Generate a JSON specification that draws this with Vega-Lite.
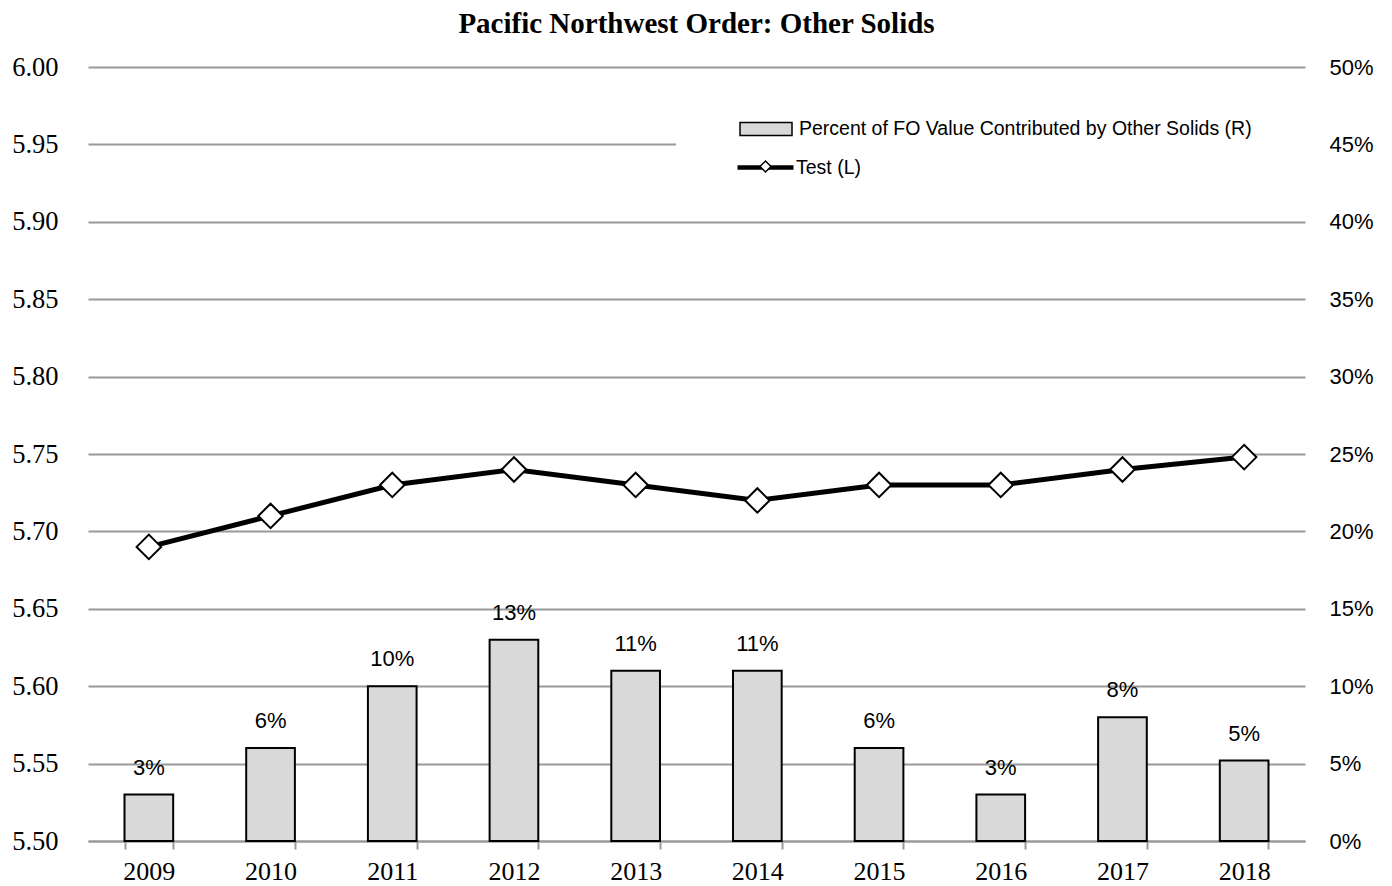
{
  "$schema": "https://vega.github.io/schema/vega-lite/v6.json",
  "width": 1217,
  "height": 774,
  "autosize": {"type": "none"},
  "padding": {"left": 88, "top": 67, "right": 87, "bottom": 45},
  "background": "white",
  "title": {"text": "Pacific Northwest Order: Other Solids", "font": "Liberation Serif", "fontSize": 29, "fontWeight": "bold", "color": "black", "anchor": "middle", "offset": 15},
  "config": {"view": {"stroke": null}},
  "data": {"values": [
    {"year": "2009", "pct": 0.03, "test": 5.69},
    {"year": "2010", "pct": 0.06, "test": 5.71},
    {"year": "2011", "pct": 0.10, "test": 5.73},
    {"year": "2012", "pct": 0.13, "test": 5.74},
    {"year": "2013", "pct": 0.11, "test": 5.73},
    {"year": "2014", "pct": 0.11, "test": 5.72},
    {"year": "2015", "pct": 0.06, "test": 5.73},
    {"year": "2016", "pct": 0.03, "test": 5.73},
    {"year": "2017", "pct": 0.08, "test": 5.74},
    {"year": "2018", "pct": 0.052, "test": 5.748}
  ]},
  "encoding": {
    "x": {"field": "year", "type": "ordinal", "title": null,
      "scale": {"paddingInner": 0.6, "paddingOuter": 0.3},
      "axis": {"labelAngle": 0, "labelFont": "Liberation Serif", "labelFontSize": 26, "labelColor": "black", "labelPadding": 9,
        "domainColor": "#999999", "domainWidth": 2, "tickColor": "#999999", "tickWidth": 2, "tickSize": 8, "tickBand": "extent"}}
  },
  "layer": [
    {
      "encoding": {
        "y": {"field": "pct", "type": "quantitative", "title": null,
          "scale": {"domain": [0, 0.5], "nice": false, "zero": true},
          "axis": {"orient": "right", "format": ".0%", "values": [0, 0.05, 0.1, 0.15, 0.2, 0.25, 0.3, 0.35, 0.4, 0.45, 0.5],
            "grid": false, "domain": false, "ticks": false, "labelPadding": 24, "labelFont": "Liberation Sans", "labelFontSize": 22, "labelColor": "black"}}
      },
      "layer": [
        {
          "mark": {"type": "bar", "stroke": "black", "strokeWidth": 2},
          "encoding": {
            "fill": {"datum": "Percent of FO Value Contributed by Other Solids (R)",
              "scale": {"range": ["#d9d9d9"]},
              "legend": {"orient": "none", "legendX": 588, "legendY": 3, "title": " ", "titleOrient": "right", "titlePadding": 23, "titleFontSize": 2,
                "fillColor": "white", "padding": 32, "symbolOffset": 31,
                "symbolType": "M-1,-0.25H1V0.25H-1Z", "symbolSize": 2704, "symbolStrokeColor": "black", "symbolStrokeWidth": 1.5,
                "labelFont": "Liberation Sans", "labelFontSize": 19.5, "labelColor": "black", "labelOffset": 6, "labelLimit": 700}}
          }
        },
        {
          "mark": {"type": "text", "dy": -27, "font": "Liberation Sans", "fontSize": 22, "color": "black"},
          "encoding": {"text": {"field": "pct", "type": "quantitative", "format": ".0%"}}
        }
      ]
    },
    {
      "encoding": {
        "y": {"field": "test", "type": "quantitative", "title": null,
          "scale": {"domain": [5.5, 6.0], "nice": false, "zero": false},
          "axis": {"orient": "left", "format": ".2f", "values": [5.5, 5.55, 5.6, 5.65, 5.7, 5.75, 5.8, 5.85, 5.9, 5.95, 6.0],
            "grid": true, "gridColor": "#999999", "gridWidth": 2, "domain": false, "ticks": false, "labelPadding": 30,
            "labelFont": "Liberation Serif", "labelFontSize": 26.5, "labelColor": "black"}}
      },
      "layer": [
        {
          "mark": {"type": "line", "strokeWidth": 5},
          "encoding": {
            "stroke": {"datum": "Test (L)", "scale": {"range": ["black"]},
              "legend": {"orient": "none", "legendX": 647, "legendY": 70, "title": null, "padding": 0,
                "symbolType": "stroke", "symbolSize": 3136, "symbolStrokeWidth": 4.5,
                "labelFont": "Liberation Sans", "labelFontSize": 19.5, "labelColor": "black", "labelOffset": 0}}
          }
        },
        {
          "mark": {"type": "point", "filled": true, "fill": "white", "stroke": "black", "strokeWidth": 2, "size": 600, "opacity": 1},
          "encoding": {
            "shape": {"datum": "Test (L) ", "scale": {"range": ["diamond"]},
              "legend": {"orient": "none", "legendX": 671, "legendY": 93, "title": null, "padding": 0,
                "symbolSize": 121, "labelExpr": "''",
                "encode": {"symbols": {"update": {"fill": {"value": "white"}, "stroke": {"value": "black"}, "strokeWidth": {"value": 1.5}, "opacity": {"value": 1}}}}}}
          }
        }
      ]
    }
  ],
  "resolve": {"scale": {"y": "independent"}}
}
